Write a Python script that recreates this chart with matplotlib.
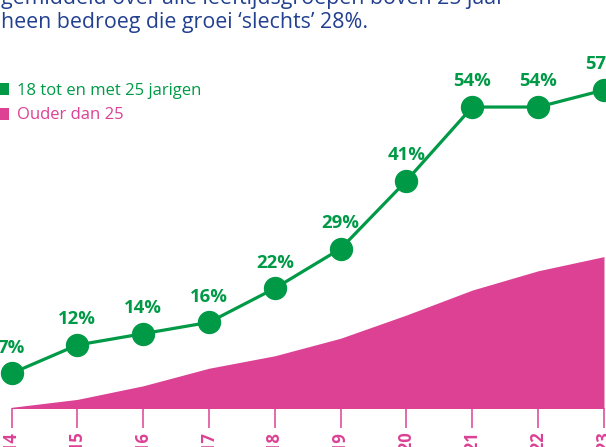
import matplotlib
matplotlib.use('Agg')
import matplotlib.pyplot as plt
from matplotlib.patches import Rectangle

# ---- data ----
years = [2014, 2015, 2016, 2017, 2018, 2019, 2020, 2021, 2022, 2023]
young = [7, 12, 14, 16, 22, 29, 41, 54, 54, 57]
older = [1.0, 2.4, 4.8, 7.9, 10.1, 13.2, 17.3, 21.7, 25.1, 27.6]
young_labels = [f"{v}%" for v in young]
year_labels = [str(y) for y in years]
legend_labels = ["18 tot en met 25 jarigen", "Ouder dan 25"]
header_lines = ["gemiddeld over alle leeftijdsgroepen boven 25 jaar",
                "heen bedroeg die groei \u2018slechts\u2019 28%."]

GREEN = "#009a47"
PINK = "#dc4194"
BLUE = "#22408f"
FONT = "Open Sans"

W, H = 606, 447
fig = plt.figure(figsize=(W / 100, H / 100), dpi=100)
fig.patch.set_facecolor("white")

base_px = 407.5
ax = fig.add_axes([0, (H - base_px) / H, 1, base_px / H])
px_per_year = 65.83
x0_px = 11.5
ax.set_xlim(2014 - x0_px / px_per_year, 2014 + (W - x0_px) / px_per_year)
px_per_pct = 5.666
zero_px = 413.0
ax.set_ylim((zero_px - base_px) / px_per_pct, zero_px / px_per_pct)

ax.fill_between(years, 0, older, color=PINK, lw=0, zorder=1)
ax.plot(years, young, color=GREEN, lw=2.3, marker='o', ms=15.8,
        zorder=3, clip_on=False)
for x, v, lab in zip(years, young, young_labels):
    ax.annotate(lab, (x, v), xytext=(0, 18.5), textcoords='offset points',
                ha='center', va='center', color=GREEN, fontsize=13.3,
                fontweight='bold', family=FONT, zorder=4)

ax.set_xticks(years)
ax.set_xticklabels(year_labels, rotation=90, fontweight='bold', color=PINK,
                   fontsize=12, family=FONT)
ax.tick_params(axis='x', length=14.4, width=1.1, color=PINK, pad=3)
ax.set_yticks([])
for s in ax.spines.values():
    s.set_visible(False)
ax.patch.set_alpha(0)


def fx(x):
    return x / W


def fy(y):
    return 1 - y / H


# header text
fig.text(fx(1), fy(4), header_lines[0], color=BLUE, fontsize=15.4,
         family=FONT, ha='left', va='baseline')
fig.text(fx(1), fy(28.3), header_lines[1], color=BLUE, fontsize=15.4,
         family=FONT, ha='left', va='baseline')

# legend
for i, (lab, col) in enumerate(zip(legend_labels, [GREEN, PINK])):
    ytop = 83 + i * 25
    fig.add_artist(Rectangle((fx(-3), fy(ytop + 12)), 12 / W, 12 / H,
                             transform=fig.transFigure, color=col, lw=0))
    fig.text(fx(16.7), fy(95 + i * 24), lab, color=col, fontsize=12.0,
             family=FONT, ha='left', va='baseline')

fig.savefig("out.png", dpi=100)
